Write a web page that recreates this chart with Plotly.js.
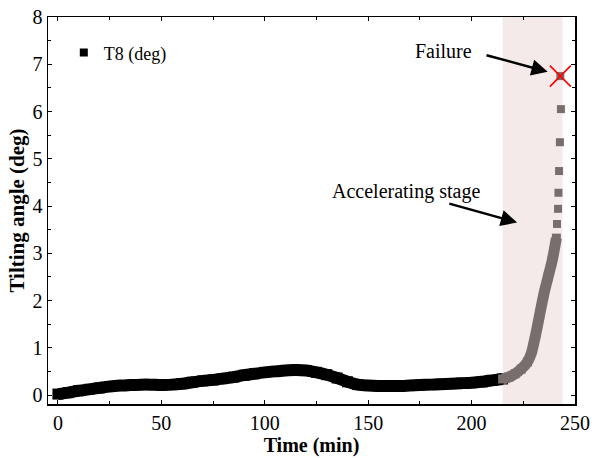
<!DOCTYPE html>
<html>
<head>
<meta charset="utf-8">
<script src="https://cdn.plot.ly/plotly-3.0.1.min.js"></script>
<style>html,body{margin:0;padding:0;background:#fff;}#chart{width:592px;height:458px;}</style>
</head>
<body>
<div id="chart"></div>
<script>
// Stable / slow stage (black)
const timeStable = [0, 5, 10, 15, 20, 25, 30, 35, 40, 45, 50, 55, 60, 65, 70, 75, 80, 85, 90, 95, 100, 105, 110, 115, 120, 125, 130, 135, 140, 145, 150, 155, 160, 165, 170, 175, 180, 185, 190, 195, 200, 205, 210, 215];
const tiltStable = [0.02, 0.05, 0.09, 0.12, 0.15, 0.18, 0.20, 0.21, 0.22, 0.22, 0.21, 0.22, 0.24, 0.27, 0.30, 0.32, 0.35, 0.38, 0.42, 0.45, 0.48, 0.50, 0.52, 0.53, 0.52, 0.48, 0.43, 0.36, 0.28, 0.22, 0.20, 0.19, 0.19, 0.19, 0.20, 0.21, 0.22, 0.23, 0.24, 0.25, 0.26, 0.28, 0.31, 0.34];
// Accelerating stage (grey)
const timeAccel = [215, 218, 221, 224, 227, 229, 231, 233, 235, 237, 239, 241];
const tiltAccel = [0.34, 0.38, 0.45, 0.55, 0.70, 0.90, 1.28, 1.72, 2.15, 2.50, 2.85, 3.32];
const timeSparse = [241.3, 241.8, 242.0, 242.3, 242.7, 243.2, 242.9];
const tiltSparse = [3.62, 3.94, 4.28, 4.74, 5.35, 6.05, 6.75];
const timeFailure = [242.9];
const tiltFailure = [6.75];
const accelStart = 215, accelEnd = 244;
const seriesName = 'T8 (deg)';

const FONT = 'Liberation Serif';
const grey = '#786e6e';

const traces = [
  {x: timeStable, y: tiltStable, mode: 'lines+markers', showlegend: false,
   line: {color: '#000', width: 12, shape: 'spline', smoothing: 0.6}, marker: {symbol: 'square', size: 11, color: '#000'}},
  {x: timeAccel, y: tiltAccel, mode: 'lines+markers', showlegend: false,
   line: {color: grey, width: 11, shape: 'spline', smoothing: 0.6}, marker: {symbol: 'square', size: 9, color: grey}},
  {x: timeSparse, y: tiltSparse, mode: 'markers', showlegend: false,
   marker: {symbol: 'square', size: 8, color: grey}},
  {x: timeFailure, y: tiltFailure, mode: 'markers', showlegend: false,
   marker: {symbol: 'x-thin', size: 21, color: 'red', line: {color: 'red', width: 1.6}}},
  {x: [null], y: [null], mode: 'markers', name: seriesName, showlegend: true,
   marker: {symbol: 'square', size: 8, color: '#000'}}
];

const axisCommon = {
  showline: true, linecolor: '#000', linewidth: 1.5, mirror: 'ticks',
  ticks: 'inside', ticklen: 4, tickcolor: '#000', showgrid: false, zeroline: false,
  tickfont: {family: FONT, size: 20, color: '#000'}
};

const layout = {
  width: 592, height: 458,
  margin: {l: 48, r: 17, t: 17, b: 54},
  paper_bgcolor: '#fff', plot_bgcolor: '#fff',
  font: {family: FONT, color: '#000'},
  xaxis: Object.assign({}, axisCommon, {
    range: [-4.8, 250], tickvals: [0, 50, 100, 150, 200, 250],
    minor: {dtick: 25, ticks: 'inside', ticklen: 3, tickcolor: '#000'},
    title: {text: '<b>Time (min)</b>', font: {family: FONT, size: 20}, standoff: 1}
  }),
  yaxis: Object.assign({}, axisCommon, {
    range: [-0.19, 8], tickvals: [0, 1, 2, 3, 4, 5, 6, 7, 8],
    minor: {dtick: 0.5, ticks: 'inside', ticklen: 3, tickcolor: '#000'},
    title: {text: '<b>Tilting angle (deg)</b>', font: {family: FONT, size: 21}, standoff: 2}
  }),
  shapes: [{type: 'rect', xref: 'x', yref: 'paper', x0: accelStart, x1: accelEnd, y0: 0, y1: 1,
    fillcolor: '#f5eaea', line: {width: 0}, layer: 'below'}],
  legend: {x: 0.03, y: 0.955, xanchor: 'left', yanchor: 'top', bgcolor: 'rgba(0,0,0,0)',
    font: {family: FONT, size: 18}},
  annotations: [
    {x: 236.8, y: 6.84, ax: 206.5, ay: 7.2, xref: 'x', yref: 'y', axref: 'x', ayref: 'y',
     text: '', showarrow: true, arrowhead: 2, arrowsize: 1.3, arrowwidth: 2.5, arrowcolor: '#000'},
    {x: 186.5, y: 7.27, xref: 'x', yref: 'y', text: 'Failure', showarrow: false,
     font: {family: FONT, size: 20, color: '#000'}},
    {x: 222, y: 3.65, ax: 188.5, ay: 4.06, xref: 'x', yref: 'y', axref: 'x', ayref: 'y',
     text: '', showarrow: true, arrowhead: 2, arrowsize: 1.3, arrowwidth: 2.5, arrowcolor: '#000'},
    {x: 168.5, y: 4.3, xref: 'x', yref: 'y', text: 'Accelerating stage', showarrow: false,
     font: {family: FONT, size: 20, color: '#000'}}
  ]
};

Plotly.newPlot('chart', traces, layout, {displayModeBar: false, staticPlot: true});
</script>
</body>
</html>
